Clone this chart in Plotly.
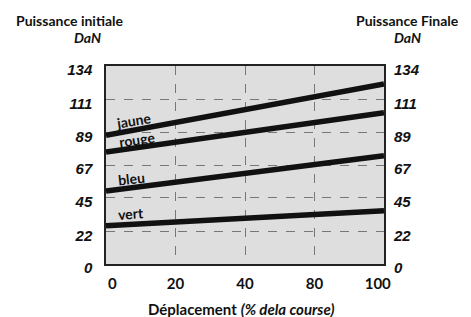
import plotly.graph_objects as go

x_pos = [0, 4]
x_tick_pos = [0.09, 1, 2, 3, 3.91]
x_tick_text = ["0", "20", "40", "80", "100"]
y_ticks = [0, 22, 45, 67, 89, 111, 134]
y_tick_text = ["0", "22", "45", "67", "89", "111", "134"]

series_names = ["jaune", "rouge", "bleu", "vert"]
jaune = [87.1, 121.8]
rouge = [75.8, 102.4]
bleu = [49.4, 73.3]
vert = [25.9, 36.1]
series_values = [jaune, rouge, bleu, vert]

label_x = [0.39, 0.45, 0.37, 0.36]
label_y = [96.8, 84.2, 57.8, 34.0]
label_angle = [-9, -8, -6, -4]

TF = "Lato"
NF = "Liberation Sans"
INK = "#111111"

W, H = 471, 317
ML, MR, MT, MB = 106, 87, 66, 53

fig = go.Figure()
for name, vals in zip(series_names, series_values):
    fig.add_trace(go.Scatter(x=x_pos, y=vals, mode="lines",
                             line=dict(color=INK, width=5.5),
                             name=name, showlegend=False, hoverinfo="skip"))
fig.add_trace(go.Scatter(x=x_pos, y=[0, 0], yaxis="y2", mode="lines",
                         line=dict(width=0), showlegend=False, hoverinfo="skip"))

for name, lx, ly, ang in zip(series_names, label_x, label_y, label_angle):
    fig.add_annotation(x=lx, y=ly, text=name, showarrow=False, textangle=ang,
                       font=dict(family=TF, size=14, color=INK, weight="bold"),
                       xref="x", yref="y")

yaxis_common = dict(range=[0, 134], tickvals=y_ticks, ticktext=y_tick_text,
                    showgrid=False, zeroline=False,
                    tickfont=dict(family=NF, size=15, color=INK, weight="bold", style="italic"),
                    ticks="", ticklabelstandoff=9, ticklabelshift=4)

fig.update_layout(
    width=W, height=H,
    margin=dict(l=ML, r=MR, t=MT, b=MB, autoexpand=False),
    paper_bgcolor="white", plot_bgcolor="#dedede",
    xaxis=dict(range=[0, 4], tickvals=x_tick_pos, ticktext=x_tick_text,
               showgrid=False, zeroline=False, ticks="",
               tickfont=dict(family=TF, size=15, color=INK, weight="bold"),
               ticklabelstandoff=5,
               showline=True, linecolor="#222222", linewidth=1.5, mirror=True,
               minor=dict(tickvals=[1, 2, 3], showgrid=True, gridcolor="#777777",
                          griddash="dash", gridwidth=1, ticks="")),
    yaxis=dict(**yaxis_common, showline=True, linecolor="#222222", linewidth=1.5, mirror=True,
               minor=dict(tickvals=y_ticks[1:-1], showgrid=True, gridcolor="#777777",
                          griddash="dash", gridwidth=1, ticks="")),
    yaxis2=dict(**yaxis_common, overlaying="y", side="right", matches="y"),
    font=dict(family=TF, color=INK),
)


def px(xp, yp):
    return (xp - ML) / (W - ML - MR), (H - MB - yp) / (H - MT - MB)


for txt, xp, yp, size in [("<b>Puissance initiale</b>", 69, 20, 14),
                          ("<b><i>DaN</i></b>", 87, 37, 14),
                          ("<b>Puissance Finale</b>", 407, 20, 14),
                          ("<b><i>DaN</i></b>", 407, 37, 14),
                          ("<b>Déplacement</b> <b><i>(% dela course)</i></b>", 241, 309, 15)]:
    ax, ay = px(xp, yp)
    fig.add_annotation(x=ax, y=ay, xref="paper", yref="paper", text=txt, showarrow=False,
                       font=dict(family=TF, size=size, color=INK),
                       xanchor="center", yanchor="middle")

fig.write_html("out.html", config={"displayModeBar": False},
               post_script="document.body.style.margin='0';")
